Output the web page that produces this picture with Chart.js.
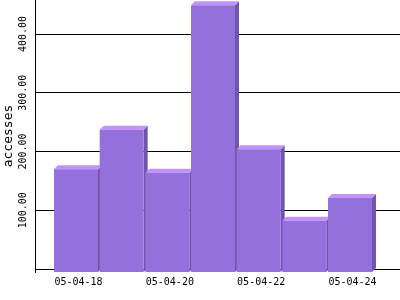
<!DOCTYPE html>
<html>
<head>
<meta charset="utf-8">
<script src="https://cdn.jsdelivr.net/npm/chart.js@4/dist/chart.umd.min.js"></script>
<style>
    html, body { margin: 0; padding: 0; background: #fff; }
    #wrap { width: 400px; height: 300px; }
</style>
</head>
<body>
<div id="wrap"><canvas id="accessChart" width="400" height="300"></canvas></div>
<script>
const dates = ['05-04-18', '05-04-19', '05-04-20', '05-04-21', '05-04-22', '05-04-23', '05-04-24'];
const accesses = [170, 237, 164, 449, 204, 82, 121];
const yTicks = [0, 100, 200, 300, 400];
const xTickIndexes = [0, 2, 4, 6];

const yMin = -5.1;
const yMax = 457.9;
const depth = 4;

// top and side faces for the 3d look, drawn behind the front faces
const bar3d = {
    id: 'bar3d',
    beforeDatasetsDraw(chart) {
        const ctx = chart.ctx;
        const meta = chart.getDatasetMeta(0);
        ctx.save();
        meta.data.forEach(bar => {
            const p = bar.getProps(['x', 'y', 'width', 'base'], true);
            const x0 = p.x - p.width / 2;
            const x1 = p.x + p.width / 2;
            // side
            ctx.fillStyle = '#7054ae';
            ctx.beginPath();
            ctx.moveTo(x1, p.y);
            ctx.lineTo(x1 + depth, p.y - depth);
            ctx.lineTo(x1 + depth, p.base - depth);
            ctx.lineTo(x1, p.base);
            ctx.closePath();
            ctx.fill();
            // top
            ctx.fillStyle = '#c192fc';
            ctx.beginPath();
            ctx.moveTo(x0, p.y);
            ctx.lineTo(x0 + depth, p.y - depth);
            ctx.lineTo(x1 + depth, p.y - depth);
            ctx.lineTo(x1, p.y);
            ctx.closePath();
            ctx.fill();
        });
        ctx.restore();
    }
};

const ctx = document.getElementById('accessChart').getContext('2d');
new Chart(ctx, {
    type: 'bar',
    data: {
        datasets: [{
            label: 'accesses',
            data: accesses.map((v, i) => ({ x: i, y: v })),
            backgroundColor: '#9370db',
            borderWidth: 0,
            base: yMin,
            barPercentage: 44 / 45.67,
            categoryPercentage: 1
        }]
    },
    options: {
        responsive: false,
        animation: false,
        layout: { padding: 0 },
        plugins: {
            legend: { display: false },
            tooltip: { enabled: false }
        },
        scales: {
            x: {
                type: 'linear',
                min: -0.898,
                max: 7.095,
                offset: false,
                grid: { display: false, drawTicks: false, offset: false },
                border: { display: false },
                afterBuildTicks: s => { s.ticks = xTickIndexes.map(i => ({ value: i + 0.055 })); },
                afterFit: s => { s.height = 28; },
                ticks: {
                    padding: 4,
                    maxRotation: 0,
                    color: '#000',
                    font: { family: 'DejaVu Sans Mono', size: 10 },
                    callback: v => dates[Math.round(v)]
                }
            },
            y: {
                min: yMin,
                max: yMax,
                grid: { color: '#000', lineWidth: 1, drawTicks: false },
                border: { display: true, color: '#000', width: 1 },
                afterBuildTicks: s => { s.ticks = yTicks.map(v => ({ value: v })); },
                afterFit: s => { s.width = 35; },
                title: {
                    display: true,
                    text: 'accesses',
                    color: '#000',
                    padding: 1,
                    font: { family: 'DejaVu Sans Mono', size: 13 }
                },
                ticks: {
                    minRotation: 90,
                    maxRotation: 90,
                    crossAlign: 'center',
                    padding: -6,
                    color: '#000',
                    font: { family: 'DejaVu Sans Mono', size: 10 },
                    callback: v => v === 0 ? '' : v.toFixed(2)
                }
            }
        }
    },
    plugins: [bar3d]
});
</script>
</body>
</html>
